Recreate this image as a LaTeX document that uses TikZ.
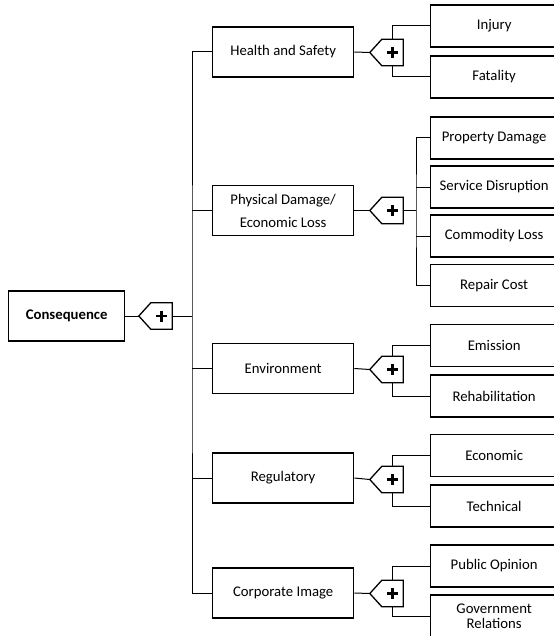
\documentclass[tikz,border=0pt]{standalone}
\usepackage{fontspec}
\setmainfont{Carlito}
\usetikzlibrary{calc}
\begin{document}
\begin{tikzpicture}[x=1bp,y=-1bp,
  box/.style={draw, line width=1.3bp, minimum width=141bp, minimum height=50bp, inner sep=0pt, align=center, anchor=west, font=\fontsize{14.8}{23}\selectfont},
  leaf/.style={draw, line width=1.3bp, minimum width=127bp, minimum height=42bp, inner sep=0pt, align=center, anchor=west, font=\fontsize{14.8}{15.5}\selectfont},
  gate/.style={minimum width=33bp, minimum height=26bp, inner sep=0pt},
  conn/.style={line width=1bp},
  gateline/.style={line width=1.3bp, fill=white},
  plusline/.style={line width=2.4bp}]
\useasboundingbox (0,0) rectangle (554,636);
\clip (0,0) rectangle (554,636);

% root
\node[box, minimum width=116bp, font=\fontsize{14.8}{23}\selectfont\bfseries] (c) at (8,316) {Consequence};
\node[gate] (g0) at (155.5,316) {};
\coordinate (t0) at (192,316);

% second level
\node[box] (hs) at (212,52) {Health and Safety};
\node[box] (pd) at (212,210.5) {Physical Damage/\\Economic Loss};
\node[box] (en) at (212,368.5) {Environment};
\node[box] (rg) at (212,478) {Regulatory};
\node[box] (ci) at (212,593) {Corporate Image};

% gates
\node[gate] (g1) at (386.5,52.5) {};
\node[gate] (g2) at (386.5,210.5) {};
\node[gate] (g3) at (386.5,369.5) {};
\node[gate] (g4) at (386.5,479.5) {};
\node[gate] (g5) at (386.5,593.5) {};

% leaves
\node[leaf] (inj) at (430,26) {Injury};
\node[leaf] (fat) at (430,77) {Fatality};
\node[leaf] (prd) at (430,138) {Property Damage};
\node[leaf] (srv) at (430,187) {Service Disruption};
\node[leaf] (cml) at (430,236) {Commodity Loss};
\node[leaf] (rep) at (430,285.5) {Repair Cost};
\node[leaf] (ems) at (430,345.5) {Emission};
\node[leaf] (reh) at (430,396) {Rehabilitation};
\node[leaf] (eco) at (430,455.5) {Economic};
\node[leaf] (tec) at (430,506) {Technical};
\node[leaf] (pub) at (430,566) {Public Opinion};
\node[leaf] (gov) at (430,616) {Government\\Relations};

% root connectors
\draw[conn] (c.east) -- (g0.west);
\draw[conn] (g0.east) -- (t0);
\draw[conn] (hs.west) -| (t0) |- (ci.west);
\draw[conn] (pd.west) -- (pd.west -| t0);
\draw[conn] (en.west) -- (en.west -| t0);
\draw[conn] (rg.west) -- (rg.west -| t0);

% sub connectors
\coordinate (s1) at ($(g1.center)+(6,0)$);
\coordinate (s2) at (416,210.5);
\coordinate (s3) at ($(g3.center)+(6,0)$);
\coordinate (s4) at ($(g4.center)+(6,0)$);
\coordinate (s5) at ($(g5.center)+(6,0)$);

\draw[conn] (hs.east) -- (g1.west);
\draw[conn] (inj.west) -| (s1) |- (fat.west);

\draw[conn] (pd.east) -- (g2.west);
\draw[conn] (g2.east) -- (s2);
\draw[conn] (prd.west) -| (s2) |- (rep.west);
\draw[conn] (srv.west) -- (srv.west -| s2);
\draw[conn] (cml.west) -- (cml.west -| s2);

\draw[conn] (en.east) -- (g3.west);
\draw[conn] (ems.west) -| (s3) |- (reh.west);

\draw[conn] (rg.east) -- (g4.west);
\draw[conn] (eco.west) -| (s4) |- (tec.west);

\draw[conn] (ci.east) -- (g5.west);
\draw[conn] (pub.west) -| (s5) |- (gov.west);

% gate shapes
\foreach \g in {g0,g1,g2,g3,g4,g5}{
  \draw[gateline] (\g.west) -- ($(\g.north west)+(12,0)$) -- (\g.north east) -- (\g.south east) -- ($(\g.south west)+(12,0)$) -- cycle;
  \draw[plusline] ($(\g.center)+(6,-5.5)$) -- ($(\g.center)+(6,5.5)$)
                  ($(\g.center)+(0.5,0)$) -- ($(\g.center)+(11.5,0)$);
}
\end{tikzpicture}
\end{document}
